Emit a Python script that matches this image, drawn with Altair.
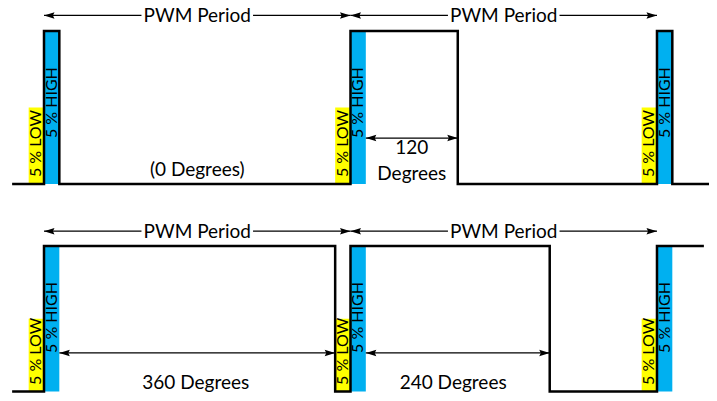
import altair as alt
import pandas as pd

# ---------------- data ----------------
# time axis: percent of one PWM period (each pulse slot = 5 %)
# level: 0 = low, 1 = high
PULSE_STARTS = [0, 100, 200]
PULSE_WIDTH = 5

TOP_T = [-10.4, 0, 5, 100, 135, 200, 205, 218.6]
TOP_LEVEL = [0, 1, 0, 1, 0, 1, 0, 0]
BOT_T = [-10.4, 0, 95, 100, 165, 200, 215.3]
BOT_LEVEL = [0, 1, 0, 1, 0, 1, 1]

PERIOD_START = [0, 100]
PERIOD_END = [100, 200]
PERIOD_TEXT = "PWM Period"

TOP_SPAN_START = [105]
TOP_SPAN_END = [135]
BOT_SPAN_START = [5, 105]
BOT_SPAN_END = [95, 165]

TOP_LABELS = ["(0 Degrees)", "120", "Degrees"]
TOP_LABEL_T = [50, 120, 120]
TOP_LABEL_LEVEL = [0.09, 0.235, 0.065]
BOT_LABELS = ["360 Degrees", "240 Degrees"]
BOT_LABEL_T = [49.5, 133.5]
BOT_LABEL_LEVEL = [0.058, 0.058]

LOW_TEXT = "5 % LOW"
HIGH_TEXT = "5 % HIGH"

# ---------------- style ----------------
FONT = "Lato"
BLUE = "#00B0F0"
YELLOW = "#FFFF00"
PERIOD_LEVEL = 1.102
PERIOD_TEXT_LEVEL = 1.095
YELLOW_TOP = 0.5
LOW_TEXT_LEVEL = 0.045
TEXT_GAP = 18.2  # half-width of the gap left in the period arrow for its label

W, H = 701, 385
X_DOMAIN = [-11.746, 216.97]
TOP_Y_DOMAIN = [-1.366, 1.1503]
BOT_Y_DOMAIN = [-0.0103, 2.6357]

HEAD_L = "M 0 0 L 2 -0.62 L 1.7 0 L 2 0.62 Z"
HEAD_R = "M 0 0 L -2 -0.62 L -1.7 0 L -2 0.62 Z"


def panel(t, level, span_s, span_e, span_level, labels, lab_t, lab_lvl, y_domain):
    xs = alt.Scale(domain=X_DOMAIN, nice=False, zero=False)
    ys = alt.Scale(domain=y_domain, nice=False, zero=False)

    def X(f):
        return alt.X(f, type="quantitative", scale=xs, axis=None)

    def Y(f):
        return alt.Y(f, type="quantitative", scale=ys, axis=None)

    slots = []
    for s in PULSE_STARTS:
        slots.append(dict(x0=s - PULSE_WIDTH, x1=s, y0=0, y1=YELLOW_TOP,
                          c=YELLOW, tx=s - PULSE_WIDTH / 2, ty=LOW_TEXT_LEVEL, txt=LOW_TEXT))
        slots.append(dict(x0=s, x1=s + PULSE_WIDTH, y0=0, y1=1,
                          c=BLUE, tx=s + PULSE_WIDTH / 2, ty=span_level, txt=HIGH_TEXT))
    slots = pd.DataFrame(slots)

    rects = alt.Chart(slots).mark_rect().encode(
        x=X("x0"), x2="x1", y=Y("y0"), y2="y1",
        color=alt.Color("c:N", scale=None),
    )
    slot_text = alt.Chart(slots).mark_text(
        angle=270, align="left", baseline="middle", font=FONT, fontSize=16, color="black"
    ).encode(x=X("tx"), y=Y("ty"), text="txt:N")

    wave = alt.Chart(pd.DataFrame({"t": t, "lvl": level})).mark_line(
        interpolate="step-after", color="black", strokeWidth=2.5
    ).encode(x=X("t"), y=Y("lvl"))

    segs, heads_l, heads_r = [], [], []
    for s, e in zip(PERIOD_START, PERIOD_END):
        m = (s + e) / 2
        segs.append(dict(a=s, b=m - TEXT_GAP, y=PERIOD_LEVEL))
        segs.append(dict(a=m + TEXT_GAP, b=e, y=PERIOD_LEVEL))
        heads_l.append(dict(x=s, y=PERIOD_LEVEL))
        heads_r.append(dict(x=e, y=PERIOD_LEVEL))
    for s, e in zip(span_s, span_e):
        segs.append(dict(a=s, b=e, y=span_level))
        heads_l.append(dict(x=s, y=span_level))
        heads_r.append(dict(x=e, y=span_level))

    rules = alt.Chart(pd.DataFrame(segs)).mark_rule(color="black", strokeWidth=1.3).encode(
        x=X("a"), x2="b", y=Y("y")
    )
    hl = alt.Chart(pd.DataFrame(heads_l)).mark_point(
        shape=HEAD_L, filled=True, color="black", size=110, opacity=1
    ).encode(x=X("x"), y=Y("y"))
    hr = alt.Chart(pd.DataFrame(heads_r)).mark_point(
        shape=HEAD_R, filled=True, color="black", size=110, opacity=1
    ).encode(x=X("x"), y=Y("y"))

    ptext = pd.DataFrame({
        "x": [(s + e) / 2 for s, e in zip(PERIOD_START, PERIOD_END)],
        "y": [PERIOD_TEXT_LEVEL] * len(PERIOD_START),
        "txt": [PERIOD_TEXT] * len(PERIOD_START),
    })
    period_text = alt.Chart(ptext).mark_text(
        font=FONT, fontSize=19, baseline="middle", align="center", color="black"
    ).encode(x=X("x"), y=Y("y"), text="txt:N")

    ltext = pd.DataFrame({"x": lab_t, "y": lab_lvl, "txt": labels})
    label_text = alt.Chart(ltext).mark_text(
        font=FONT, fontSize=19, baseline="middle", align="center", color="black"
    ).encode(x=X("x"), y=Y("y"), text="txt:N")

    return alt.layer(rects, slot_text, wave, rules, hl, hr, period_text, label_text)


top = panel(TOP_T, TOP_LEVEL, TOP_SPAN_START, TOP_SPAN_END, 0.30,
            TOP_LABELS, TOP_LABEL_T, TOP_LABEL_LEVEL, TOP_Y_DOMAIN)
bottom = panel(BOT_T, BOT_LEVEL, BOT_SPAN_START, BOT_SPAN_END, 0.265,
               BOT_LABELS, BOT_LABEL_T, BOT_LABEL_LEVEL, BOT_Y_DOMAIN)

chart = alt.layer(top, bottom).resolve_scale(y="independent").properties(
    width=W, height=H, padding=0, background="white",
    autosize=alt.AutoSizeParams(type="none"),
).configure_view(strokeWidth=0)

chart.save("out.html", embed_options={"renderer": "svg", "actions": False})
